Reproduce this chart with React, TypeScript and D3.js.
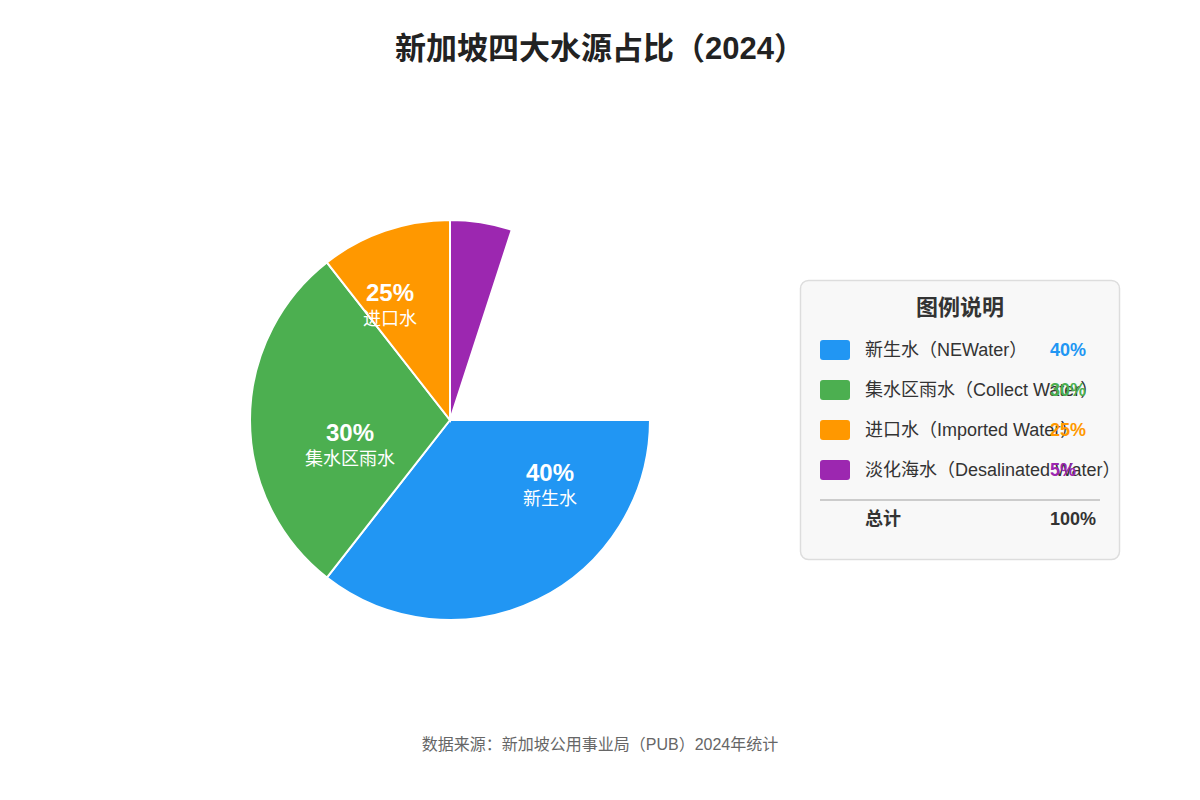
import * as d3 from 'd3';
import React, { useEffect, useRef } from 'react';

// Water sources of Singapore (2024)
const shortNames = ['新生水', '集水区雨水', '进口水', '淡化海水'];
const legendNames = [
  '新生水（NEWater）',
  '集水区雨水（Collect Water）',
  '进口水（Imported Water）',
  '淡化海水（Desalinated Water）'
];
const shares = [40, 30, 25, 5];
// angular extent of each slice as it is drawn in the reference (degrees)
const drawnSweep = [128, 104, 38, 18];
const colors = ['#2196F3', '#4CAF50', '#FF9800', '#9C27B0'];

const FONT = '"Liberation Sans", Arial, "Noto Sans CJK SC", sans-serif';

export default function App() {
  const svgRef = useRef<SVGSVGElement | null>(null);

  useEffect(() => {
    document.body.style.margin = '0';
    const width = 1200;
    const height = 800;

    const svg = d3.select(svgRef.current);
    svg.selectAll('*').remove();
    svg.attr('width', width).attr('height', height).style('font-family', FONT);

    // title
    svg
      .append('text')
      .attr('x', width / 2)
      .attr('y', 48)
      .attr('text-anchor', 'middle')
      .attr('dominant-baseline', 'central')
      .style('font-size', '31px')
      .style('font-weight', 'bold')
      .attr('fill', '#222')
      .text('新加坡四大水源占比（2024）');

    // pie
    const cx = 450;
    const cy = 420;
    const radius = 200;
    const toRad = (deg: number) => (deg * Math.PI) / 180;

    // slices start at 3 o'clock, clockwise
    let acc = 90;
    const slices = drawnSweep.map((sweep, i) => {
      const s = { start: toRad(acc), end: toRad(acc + sweep), i };
      acc += sweep;
      return s;
    });

    const arc = d3
      .arc<{ start: number; end: number; i: number }>()
      .innerRadius(0)
      .outerRadius(radius)
      .startAngle((d) => d.start)
      .endAngle((d) => d.end);

    const pie = svg.append('g').attr('transform', `translate(${cx},${cy})`);

    pie
      .selectAll('path')
      .data(slices)
      .enter()
      .append('path')
      .attr('d', arc)
      .attr('fill', (d) => colors[d.i])
      .attr('stroke', '#fff')
      .attr('stroke-width', 2);

    // label anchors inside the slices (offset from centre)
    const labelOffsets: [number, number][] = [
      [100, 52],
      [-100, 12],
      [-60, -128]
    ];
    labelOffsets.forEach(([dx, dy], i) => {
      pie
        .append('text')
        .attr('x', dx)
        .attr('y', dy)
        .attr('text-anchor', 'middle')
        .attr('dominant-baseline', 'central')
        .attr('fill', '#fff')
        .style('font-size', '24px')
        .style('font-weight', 'bold')
        .text(`${shares[i]}%`);
      pie
        .append('text')
        .attr('x', dx)
        .attr('y', dy + 27)
        .attr('text-anchor', 'middle')
        .attr('dominant-baseline', 'central')
        .attr('fill', '#fff')
        .style('font-size', '18px')
        .text(shortNames[i]);
    });

    // legend box
    const lg = svg.append('g').attr('transform', 'translate(800,280)');
    lg.append('rect')
      .attr('x', 0.5)
      .attr('y', 0.5)
      .attr('width', 319)
      .attr('height', 279)
      .attr('rx', 8)
      .attr('fill', '#f8f8f8')
      .attr('stroke', '#ddd')
      .attr('stroke-width', 1.5);

    lg.append('text')
      .attr('x', 160)
      .attr('y', 27)
      .attr('text-anchor', 'middle')
      .attr('dominant-baseline', 'central')
      .attr('fill', '#333')
      .style('font-size', '22px')
      .style('font-weight', 'bold')
      .text('图例说明');

    const rowStep = 40;
    const rows = lg
      .selectAll('.row')
      .data(legendNames)
      .enter()
      .append('g')
      .attr('class', 'row')
      .attr('transform', (_, i) => `translate(20,${60 + i * rowStep})`);

    rows
      .append('rect')
      .attr('width', 30)
      .attr('height', 20)
      .attr('rx', 3)
      .attr('fill', (_, i) => colors[i]);

    rows
      .append('text')
      .attr('x', 45)
      .attr('y', 10)
      .attr('dominant-baseline', 'central')
      .attr('fill', '#333')
      .style('font-size', '18px')
      .text((d) => d);

    rows
      .append('text')
      .attr('x', 230)
      .attr('y', 10)
      .attr('dominant-baseline', 'central')
      .attr('fill', (_, i) => colors[i])
      .style('font-size', '18px')
      .style('font-weight', 'bold')
      .text((_, i) => `${shares[i]}%`);

    lg.append('line')
      .attr('x1', 20)
      .attr('x2', 300)
      .attr('y1', 220)
      .attr('y2', 220)
      .attr('stroke', '#ccc')
      .attr('stroke-width', 2);

    lg.append('text')
      .attr('x', 65)
      .attr('y', 239)
      .attr('dominant-baseline', 'central')
      .attr('fill', '#333')
      .style('font-size', '18px')
      .style('font-weight', 'bold')
      .text('总计');

    lg.append('text')
      .attr('x', 250)
      .attr('y', 239)
      .attr('dominant-baseline', 'central')
      .attr('fill', '#333')
      .style('font-size', '18px')
      .style('font-weight', 'bold')
      .text(`${d3.sum(shares)}%`);

    // source note
    svg
      .append('text')
      .attr('x', width / 2)
      .attr('y', 744)
      .attr('text-anchor', 'middle')
      .attr('dominant-baseline', 'central')
      .attr('fill', '#666')
      .style('font-size', '16px')
      .text('数据来源：新加坡公用事业局（PUB）2024年统计');
  }, []);

  return (
    <div style={{ width: 1200, height: 800, background: '#fff' }}>
      <svg ref={svgRef} />
    </div>
  );
}
